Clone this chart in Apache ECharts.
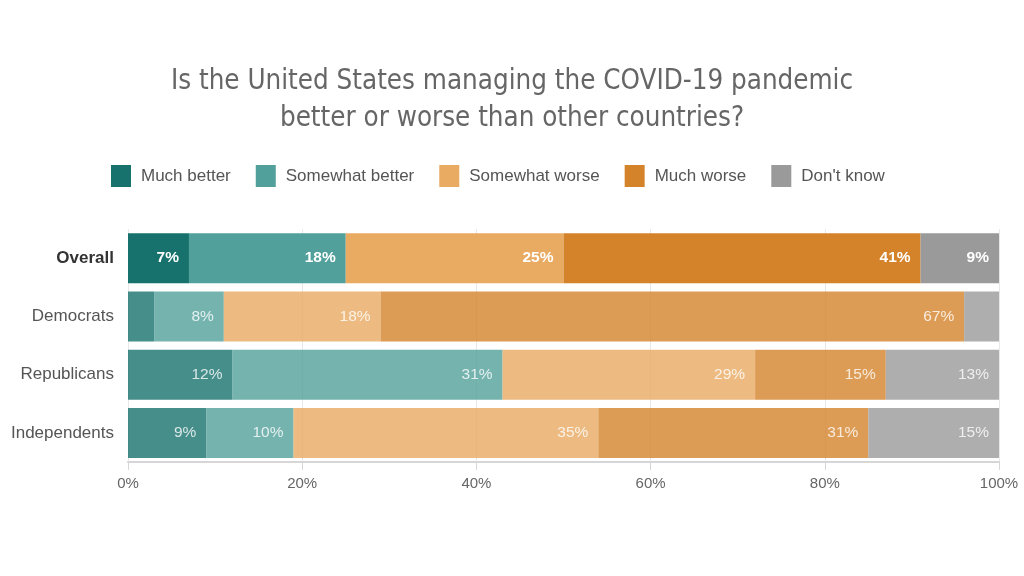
<!DOCTYPE html>
<html><head><meta charset="utf-8">
<script src="https://cdn.jsdelivr.net/npm/echarts@6/dist/echarts.min.js"></script>
<style>html,body{margin:0;padding:0;background:#fff}#c{width:1024px;height:576px}</style>
</head><body><div id="c"></div>
<script>
const categories = ["Overall", "Democrats", "Republicans", "Independents"];
const seriesNames = ["Much better", "Somewhat better", "Somewhat worse", "Much worse", "Don't know"];
const muchBetter = [7, 3, 12, 9];
const somewhatBetter = [18, 8, 31, 10];
const somewhatWorse = [25, 18, 29, 35];
const muchWorse = [41, 67, 15, 31];
const dontKnow = [9, 4, 13, 15];
const xTicks = [0, 20, 40, 60, 80, 100];
const colors = ["#17726d", "#52a09b", "#e9aa61", "#d4832b", "#9a9a9a"];
const values = [muchBetter, somewhatBetter, somewhatWorse, muchWorse, dontKnow];
const sans = 'Liberation Sans, Arial, sans-serif';

const chart = echarts.init(document.getElementById('c'));
const series = seriesNames.map((name, si) => ({
  name, type: 'bar', stack: 'total', barWidth: 50,
  itemStyle: { color: colors[si] },
  data: values[si].map((v, ci) => ({
    value: v,
    itemStyle: { opacity: ci === 0 ? 1 : 0.8 },
    label: {
      show: v >= 5, position: 'insideRight', distance: 10,
      color: '#fff', fontSize: 15.5, fontFamily: sans,
      fontWeight: ci === 0 ? 'bold' : 'normal',
      formatter: '{c}%'
    }
  }))
}));

chart.setOption({
  animation: false,
  title: {
    text: 'Is the United States managing the COVID-19 pandemic\nbetter or worse than other countries?',
    left: 'center', top: 58,
    textStyle: { fontFamily: 'DejaVu Sans Condensed, Liberation Sans, sans-serif', fontSize: 27.5, fontWeight: 'normal', color: '#666', lineHeight: 37 }
  },
  legend: {
    top: 160, left: 106, itemWidth: 20, itemHeight: 22, itemGap: 25,
    icon: 'rect',
    textStyle: { fontFamily: sans, fontSize: 17, color: '#555', padding: [0, 0, 0, 5] },
    data: seriesNames
  },
  grid: { left: 128, right: 25, top: 229, bottom: 114 },
  xAxis: {
    type: 'value', min: 0, max: 100, interval: 20,
    axisLine: { show: true, lineStyle: { color: '#d6d6d6', width: 2 } },
    axisTick: { show: true, length: 8, lineStyle: { color: '#d6d6d6' } },
    splitLine: { show: true, lineStyle: { color: '#e8e8e8' } },
    axisLabel: { formatter: v => xTicks.includes(v) ? v + '%' : '', fontFamily: sans, fontSize: 15, color: '#666', margin: 14 }
  },
  yAxis: {
    type: 'category', inverse: true, data: categories,
    axisLine: { show: false }, axisTick: { show: false },
    axisLabel: {
      margin: 14, fontFamily: sans, fontSize: 17, color: '#555',
      formatter: v => v === 'Overall' ? '{b|' + v + '}' : v,
      rich: { b: { fontWeight: 'bold', color: '#333', fontSize: 17, fontFamily: sans } }
    }
  },
  series
});
</script></body></html>
